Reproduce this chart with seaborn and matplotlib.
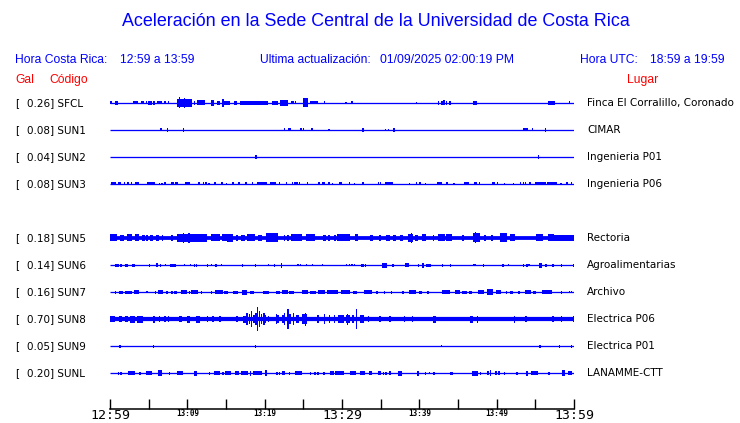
import matplotlib
matplotlib.use("Agg")
import matplotlib.pyplot as plt
import seaborn as sns
import pandas as pd

BLUE = "#0000ff"
RED = "#ff0000"

# Station table
codes = ["SFCL", "SUN1", "SUN2", "SUN3", "SUN5", "SUN6", "SUN7", "SUN8", "SUN9", "SUNL"]
peak_gal = ["0.26", "0.08", "0.04", "0.08", "0.18", "0.14", "0.16", "0.70", "0.05", "0.20"]
places = ["Finca El Corralillo, Coronado", "CIMAR", "Ingenieria P01", "Ingenieria P06",
          "Rectoria", "Agroalimentarias", "Archivo", "Electrica P06", "Electrica P01",
          "LANAMME-CTT"]
rows = [0, 1, 2, 3, 5, 6, 7, 8, 9, 10]          # SUN4 missing -> empty row 4
base_half = [0.6, 0.6, 0.6, 0.6, 1.9, 0.6, 0.6, 2.1, 0.6, 0.6]   # trace thickness (px)

tick_min = list(range(0, 61, 5))
tick_text = ["12:59", "", "13:09", "", "13:19", "", "13:29", "", "13:39", "", "13:49", "", "13:59"]

# bursts: (start minute, end minute, half amplitude px)
sfcl = [(0.13, 0.13, 1.5), (0.65, 1.0, 1.7), (3.0, 3.6, 1.5), (4.0, 4.4, 1.5), (4.7, 4.7, 1.5),
        (4.9, 5.4, 2.2), (5.6, 5.8, 2), (6.1, 6.7, 1.5), (7.0, 7.3, 1.5), (7.6, 7.6, 1.5),
        (8.7, 10.6, 4.0), (9.0, 9.0, 5.5), (9.6, 9.6, 5), (10.9, 10.9, 2), (11.2, 12.3, 2.5),
        (13.0, 13.4, 3), (13.8, 14.2, 2), (14.5, 14.7, 4), (14.8, 15.5, 2), (16.0, 16.4, 2),
        (16.8, 20.4, 2), (21.0, 21.7, 2), (22.0, 23.0, 3), (23.4, 23.8, 1.5), (24.0, 24.0, 1.5),
        (25.0, 25.6, 4.5), (25.9, 26.9, 1.5), (27.7, 27.7, 1.5), (30.5, 30.5, 1), (31.3, 31.3, 1.5),
        (39.6, 39.6, 1), (42.4, 42.6, 2), (42.8, 43.0, 2), (43.2, 43.2, 2.5), (43.5, 43.5, 2),
        (43.8, 44.1, 2), (46.9, 47.4, 2), (56.6, 57.5, 2), (59.4, 59.4, 1.5)]
sun1 = [(6.6, 6.6, 1.5), (7.4, 7.4, 2), (9.5, 9.5, 2), (22.6, 22.6, 1.5), (23.0, 23.4, 1.5),
        (24.7, 24.7, 1.5), (25.0, 25.0, 1.5), (26.1, 26.1, 1.5), (28.3, 28.3, 1), (32.7, 32.7, 2),
        (35.6, 35.6, 1), (36.0, 36.0, 1), (36.7, 36.7, 2), (53.4, 54.1, 1.5), (54.6, 54.6, 1.5),
        (56.3, 56.4, 2)]
sun2 = [(18.9, 18.9, 2), (55.4, 55.4, 2)]
sun3 = [(0.1, 0.8, 1.5), (1.0, 1.4, 1.5), (1.8, 2.0, 1.5), (2.2, 2.5, 1.5), (2.8, 2.8, 1.5),
        (3.2, 3.8, 1.5), (4.8, 5.8, 1.5), (6.4, 6.4, 1), (6.7, 6.7, 1), (7.1, 7.1, 1.5),
        (7.9, 8.3, 1.5), (8.4, 8.8, 1.5), (9.7, 10.3, 1.5), (11.5, 11.5, 1.5), (12.1, 12.1, 1.5),
        (12.4, 12.4, 1.5), (12.8, 12.8, 1), (13.6, 13.6, 1.5), (14.3, 14.6, 1.5), (15.1, 15.1, 1),
        (15.9, 15.9, 1.5), (16.7, 16.7, 1.5), (17.5, 17.7, 1.5), (18.3, 18.5, 1.5), (19.0, 20.3, 1.5),
        (20.7, 21.5, 1.5), (21.9, 21.9, 1.5), (22.8, 22.8, 1.5), (23.6, 23.6, 1.5), (23.9, 23.9, 1.5),
        (24.2, 24.2, 1.5), (24.5, 24.5, 1.5), (25.5, 25.5, 1.5), (27.0, 27.0, 1.5), (27.4, 27.8, 1.5),
        (28.3, 28.3, 1.5), (28.8, 28.8, 1), (29.6, 30.0, 1.5), (31.0, 31.0, 1.5), (31.6, 31.6, 1),
        (32.7, 32.7, 1.5), (34.7, 34.7, 1.5), (35.0, 35.0, 1.5), (35.5, 36.6, 1.5), (38.7, 38.7, 1),
        (39.6, 39.7, 1.5), (40.1, 40.1, 1.5), (40.8, 40.8, 1), (42.3, 42.9, 1.5), (43.6, 43.6, 1.5),
        (44.5, 44.5, 1), (45.8, 46.4, 1.5), (47.1, 47.4, 1.5), (47.8, 47.8, 1.5), (49.4, 49.8, 1.5),
        (50.1, 50.1, 1.5), (51.0, 51.0, 1), (52.2, 52.2, 1), (53.1, 53.1, 1.5), (53.5, 53.5, 1.5),
        (53.7, 53.7, 1.5), (54.3, 54.3, 1.5), (54.9, 56.4, 1.5), (56.5, 57.8, 1.5), (58.3, 58.3, 1),
        (59.1, 59.1, 1.5), (59.7, 59.7, 1.5)]
sun5 = [(0.0, 0.9, 3.5), (1.3, 1.8, 3.2), (2.2, 2.9, 3.5), (3.2, 3.7, 3.5), (4.2, 4.5, 3),
        (4.8, 4.8, 3), (5.2, 5.5, 3.2), (6.0, 6.3, 3), (6.8, 6.8, 3), (7.9, 8.1, 3),
        (8.7, 12.5, 4), (9.5, 9.5, 5), (10.2, 10.2, 5), (13.0, 14.2, 3.5), (14.5, 15.2, 3.5),
        (15.1, 15.9, 4), (16.3, 16.6, 3.2), (17.0, 17.4, 3.2), (17.7, 18.8, 3.5), (19.2, 19.6, 3.2),
        (20.2, 21.7, 4.5), (22.6, 22.6, 3), (23.0, 23.0, 3), (23.4, 24.8, 3.5), (25.4, 26.5, 3.5),
        (27.5, 27.9, 3.2), (28.3, 28.3, 3), (29.1, 29.1, 3), (29.4, 31.0, 3.5), (31.7, 32.1, 3.5),
        (33.6, 34.0, 3), (34.9, 34.9, 3), (35.7, 36.2, 3.2), (36.6, 37.0, 3.2), (37.5, 37.9, 3.2),
        (38.5, 39.2, 4), (39.0, 39.0, 5), (39.5, 39.8, 3.2), (40.3, 40.9, 3.5), (41.8, 41.8, 3),
        (42.4, 43.3, 3.5), (43.5, 44.2, 3.5), (45.5, 45.8, 3.2), (47.0, 47.8, 4.5), (47.3, 47.3, 5.5),
        (48.3, 48.6, 3.2), (49.4, 49.4, 3), (50.4, 51.3, 4.5), (51.7, 52.4, 3.5), (55.1, 56.0, 3.5),
        (56.7, 57.4, 3.5), (57.3, 60.0, 3.3)]
sun6 = [(0.7, 1.2, 1.5), (1.4, 1.4, 1.5), (1.9, 2.3, 1.5), (2.8, 3.2, 1.5), (5.1, 5.1, 1.5),
        (5.9, 6.2, 2), (6.5, 6.5, 1.5), (7.2, 7.2, 1), (7.8, 8.5, 1.5), (9.6, 9.6, 1),
        (10.4, 10.4, 1), (10.9, 10.9, 1.5), (11.2, 11.2, 1.5), (12.6, 12.6, 1.5), (13.1, 13.1, 1),
        (13.6, 13.8, 1.5), (14.4, 14.4, 1), (17.1, 17.1, 1.5), (18.8, 18.8, 1.5), (20.5, 20.5, 1),
        (21.3, 21.3, 1.5), (22.2, 22.2, 2.5), (24.3, 24.3, 1), (24.6, 24.6, 1), (25.4, 25.4, 1),
        (26.2, 26.2, 1), (27.5, 27.5, 1), (30.6, 30.6, 1), (31.0, 31.0, 1), (31.3, 31.3, 1),
        (31.6, 31.6, 1), (32.4, 32.9, 1.5), (33.0, 33.0, 1.5), (35.2, 35.8, 2.5), (36.5, 36.7, 1.5),
        (38.2, 38.6, 2), (39.9, 39.9, 1.5), (40.3, 40.6, 2.5), (40.9, 41.5, 1.5), (42.9, 43.1, 1.5),
        (44.0, 44.0, 1.5), (47.0, 47.3, 1), (48.3, 48.3, 1.5), (50.8, 50.8, 1.5), (51.5, 51.5, 1),
        (53.5, 53.5, 1.5), (53.9, 53.9, 1.5), (54.2, 54.2, 1), (55.5, 55.8, 2.5), (56.3, 56.5, 1.5),
        (57.3, 57.3, 1.5), (58.3, 58.5, 1.5), (59.9, 59.9, 1.5)]
sun7 = [(0.7, 0.7, 1.5), (1.2, 1.7, 1.5), (1.9, 2.9, 1.5), (3.1, 3.7, 1.8), (4.8, 4.8, 1),
        (5.9, 5.9, 1.5), (6.2, 6.8, 1.8), (7.2, 7.5, 1.5), (7.9, 8.2, 1.5), (8.3, 8.6, 1.5),
        (9.2, 10.0, 1.8), (10.2, 10.4, 1.5), (10.5, 11.4, 1.8), (11.8, 11.8, 1.5), (13.1, 13.1, 1.5),
        (13.6, 14.6, 1.8), (14.8, 15.2, 1.5), (15.9, 16.5, 1.5), (17.1, 17.7, 2.5), (18.1, 18.6, 1.5),
        (19.8, 20.6, 1.5), (21.5, 22.0, 1.5), (22.2, 23.0, 1.8), (23.2, 23.8, 1.5), (24.8, 25.6, 1.8),
        (25.8, 26.6, 1.5), (26.9, 27.8, 1.8), (28.1, 29.5, 1.8), (29.9, 31.0, 1.8), (31.4, 32.0, 1.5),
        (32.8, 33.9, 1.8), (34.4, 34.7, 1.5), (35.5, 35.5, 1.5), (36.4, 36.4, 1.5), (37.9, 37.9, 1.5),
        (38.7, 39.6, 1.8), (40.0, 40.3, 1.5), (41.1, 41.1, 1.5), (42.9, 44.0, 1.8), (44.6, 45.2, 1.8),
        (45.5, 46.1, 1.5), (46.4, 46.8, 1.5), (47.6, 48.3, 1.8), (48.8, 49.5, 3), (49.9, 50.6, 1.8),
        (51.3, 51.3, 1.5), (51.7, 52.1, 1.5), (52.8, 53.0, 1.5), (53.7, 54.5, 2), (54.7, 55.1, 1.5),
        (55.8, 57.1, 1.8), (58.4, 58.4, 1.5), (59.4, 59.4, 1), (59.7, 59.7, 1)]
sun8 = [(0.0, 0.6, 3), (1.1, 1.5, 3), (2.0, 2.3, 3), (2.6, 3.2, 3.5), (3.5, 4.3, 3.5),
        (5.5, 5.8, 3.5), (6.4, 6.4, 3), (7.0, 7.3, 3), (7.6, 7.6, 3), (8.9, 9.3, 3),
        (9.9, 10.4, 3.5), (11.1, 11.6, 3.5), (12.6, 12.6, 3), (13.3, 13.3, 3), (14.2, 14.2, 3),
        (16.4, 16.4, 3), (17.2, 17.7, 3.5), (17.7, 17.7, 5.7), (18.0, 18.0, 5), (18.3, 18.3, 8),
        (18.6, 18.6, 4), (18.9, 18.9, 6), (19.1, 19.1, 12), (19.3, 19.3, 8), (19.6, 19.6, 5),
        (19.9, 19.9, 6), (20.1, 20.1, 4), (20.5, 20.5, 3), (21.5, 21.5, 5), (21.7, 21.7, 4),
        (22.2, 22.6, 4), (22.6, 22.6, 6), (23.0, 23.0, 10), (23.3, 23.3, 5), (23.7, 23.7, 6),
        (24.1, 24.4, 4), (24.8, 25.5, 5), (25.3, 25.3, 6.5), (26.9, 26.9, 4), (27.7, 27.7, 5),
        (28.4, 28.4, 4), (29.0, 29.0, 4), (29.5, 30.2, 4), (30.5, 31.0, 4), (30.7, 30.7, 5.5),
        (31.3, 31.6, 4), (31.9, 31.9, 10), (32.3, 32.9, 4), (33.4, 33.4, 3), (34.9, 34.9, 3),
        (36.2, 36.2, 3), (38.1, 38.1, 3), (39.1, 39.1, 3), (41.8, 42.2, 3.5), (46.6, 47.0, 3.5),
        (47.5, 47.5, 3.5), (52.2, 52.4, 3.5), (53.8, 53.8, 3), (57.3, 57.3, 3), (58.4, 58.4, 3),
        (59.9, 59.9, 3)]
sun9 = [(1.3, 1.3, 1.5), (5.6, 5.6, 1.5), (18.8, 18.8, 1.5), (42.9, 42.9, 1),
        (55.6, 55.6, 1.5), (58.1, 58.1, 1.5), (59.7, 59.7, 1.5)]
sunl = [(1.1, 1.1, 1.5), (1.4, 1.4, 1.5), (2.3, 3.2, 2), (3.9, 3.9, 1.5), (4.6, 5.4, 2),
        (6.2, 6.7, 3), (7.6, 7.8, 1.5), (8.7, 9.4, 2), (10.8, 11.2, 2.5), (12.9, 12.9, 1.5),
        (13.4, 14.2, 1.8), (14.6, 14.6, 1.5), (14.9, 15.6, 2), (16.2, 16.7, 1.8), (16.9, 17.8, 2),
        (18.2, 18.2, 2.5), (18.5, 19.7, 2), (20.1, 20.3, 3), (21.6, 21.6, 1.5), (21.9, 21.9, 1.5),
        (22.2, 22.6, 2), (23.2, 23.2, 1.5), (23.9, 24.8, 2), (25.9, 25.9, 1.5), (26.5, 26.5, 1.5),
        (26.9, 26.9, 1.5), (27.5, 27.8, 1.5), (28.4, 29.0, 2), (29.1, 30.2, 2), (31.0, 31.8, 2),
        (32.3, 33.0, 2), (33.5, 33.9, 1.8), (34.6, 35.0, 1.8), (35.4, 35.4, 1.5), (35.7, 35.7, 1.5),
        (36.1, 36.4, 1.8), (37.2, 37.8, 2.5), (39.7, 40.0, 2.5), (40.8, 40.8, 1.5), (41.3, 41.3, 1),
        (41.9, 41.9, 1.5), (44.1, 44.1, 1.5), (44.3, 44.3, 1.5), (46.8, 47.6, 2.5), (47.9, 47.9, 1.5),
        (48.9, 48.9, 1.8), (49.2, 49.2, 3), (49.9, 49.9, 2), (50.3, 50.3, 2), (51.0, 51.0, 1.5),
        (52.5, 52.7, 1.5), (53.8, 54.1, 2.5), (54.4, 55.3, 2), (56.7, 56.9, 1.5), (58.5, 58.9, 3),
        (59.2, 59.8, 2)]
bursts = [sfcl, sun1, sun2, sun3, sun5, sun6, sun7, sun8, sun9, sunl]

sns.set_style("white")
plt.rcParams["font.family"] = ["DejaVu Sans"]
plt.rcParams["text.color"] = "black"

W, H = 740, 423
fig = plt.figure(figsize=(W / 100, H / 100), dpi=100)
# trace area: x 110..574 px, y 90..409 px (y data measured in px from top)
ax = fig.add_axes([110 / W, (H - 409) / H, 464 / W, 319 / H])
ax.set_xlim(0, 60)
ax.set_ylim(319, 0)

ROW0, ROWSTEP = 13, 27
PX_PER_MIN = 464 / 60

for i, code in enumerate(codes):
    yc = ROW0 + ROWSTEP * rows[i]
    lw = max(2 * base_half[i], 1.3) * 0.72
    line_df = pd.DataFrame({"t": [0, 60], "y": [yc, yc]})
    sns.lineplot(data=line_df, x="t", y="y", ax=ax, color=BLUE, linewidth=lw,
                 solid_capstyle="butt")
    for t0, t1, amp in bursts[i]:
        w = max(t1 - t0, 1.4 / PX_PER_MIN)
        ax.bar((t0 + t1) / 2, 2 * amp, width=w, bottom=yc - amp, color=BLUE,
               linewidth=0, align="center")

    ty = 1 - (90 + yc) / H
    fig.text(15 / W, ty, "[", fontsize=7.5, va="center", ha="left", color="black")
    fig.text(27 / W, ty, f"{peak_gal[i]}] {code}", fontsize=7.5, va="center", ha="left",
             color="black")
    fig.text(587 / W, ty, places[i], fontsize=7.5, va="center", ha="left", color="black")

ax.set_xlabel("")
ax.set_ylabel("")
ax.set_yticks([])
ax.set_xticks(tick_min)
ax.set_xticklabels(tick_text)
for lab, txt in zip(ax.get_xticklabels(), tick_text):
    lab.set_family("DejaVu Sans Mono")
    if txt in ("12:59", "13:29", "13:59"):
        lab.set_fontsize(9.5)
    else:
        lab.set_fontsize(5.5)
        lab.set_fontweight("bold")
ax.tick_params(axis="x", bottom=True, direction="in", length=7, width=1, pad=0,
               colors="black")
for side in ["top", "left", "right"]:
    ax.spines[side].set_visible(False)
ax.spines["bottom"].set_linewidth(1.1)
ax.spines["bottom"].set_color("black")
ax.patch.set_alpha(0)

# header
fig.text(376 / W, 1 - 22 / H, "Aceleración en la Sede Central de la Universidad de Costa Rica",
         fontsize=12.9, color=BLUE, ha="center", va="center", family="Liberation Sans")
hdr = dict(fontsize=8.7, color=BLUE, va="center", family="Liberation Sans")
fig.text(15 / W, 1 - 60 / H, "Hora Costa Rica:", ha="left", **hdr)
fig.text(120 / W, 1 - 60 / H, "12:59 a 13:59", ha="left", **hdr)
fig.text(260 / W, 1 - 60 / H, "Ultima actualización:", ha="left", **hdr)
fig.text(380 / W, 1 - 60 / H, "01/09/2025 02:00:19 PM", ha="left", **hdr)
fig.text(580 / W, 1 - 60 / H, "Hora UTC:", ha="left", **hdr)
fig.text(725 / W, 1 - 60 / H, "18:59 a 19:59", ha="right", **hdr)
red = dict(fontsize=8.7, color=RED, va="center", family="Liberation Sans")
fig.text(15 / W, 1 - 80 / H, "Gal", ha="left", **red)
fig.text(49 / W, 1 - 80 / H, "Código", ha="left", **red)
fig.text(627 / W, 1 - 80 / H, "Lugar", ha="left", **red)

fig.savefig("out.png", dpi=100, facecolor="white")
